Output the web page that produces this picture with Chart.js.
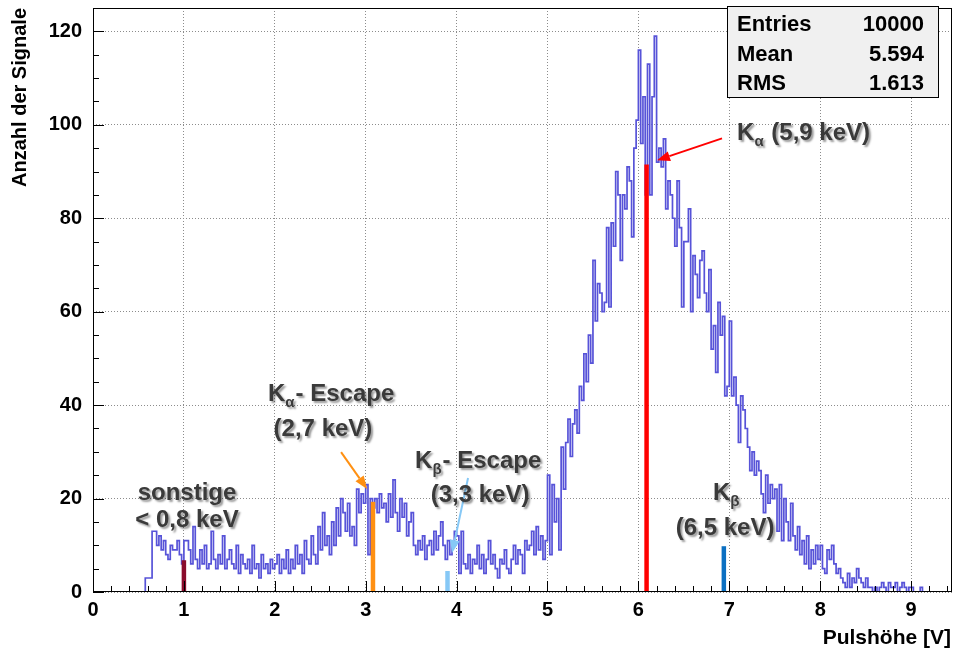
<!DOCTYPE html>
<html>
<head>
<meta charset="utf-8">
<title>Pulshöhenspektrum</title>
<script src="https://cdn.jsdelivr.net/npm/chart.js@4/dist/chart.umd.min.js"></script>
<style>
    html, body { margin: 0; padding: 0; background: #fff; }
    canvas { display: block; }
</style>
</head>
<body>
<canvas id="hist" width="953" height="651"></canvas>
<script>
// histogram: 0.025 V bins starting at 0 V, one row = 0.1 V
const binStart = 0
const binWidth = 0.025
const counts = [
    0, 0, 0, 0,   0, 0, 0, 0,   0, 0, 0, 0,   0, 0, 0, 0,   0, 0, 0, 0,
    0, 0, 0, 3,   3, 3, 13, 13, 10, 12, 9, 11, 8, 7, 10, 9,  9, 11, 8, 6,
    11, 11, 9, 6,  14, 7, 5, 9,  6, 10, 5, 6,  13, 7, 5, 8,  6, 12, 5, 7,
    9, 6, 5, 10,  4, 8, 6, 5,   7, 4, 10, 5,  6, 3, 8, 5,   6, 4, 7, 5,
    6, 8, 4, 7,   5, 9, 4, 7,   5, 10, 6, 8,  4, 11, 7, 6,  12, 8, 6, 14,
    9, 17, 10, 12, 8, 15, 10, 18, 12, 20, 17, 13, 19, 12, 14, 10, 22, 17, 21, 19,
    23, 8, 20, 18, 20, 17, 21, 18, 19, 15, 21, 16, 24, 17, 13, 20, 16, 19, 12, 15,
    17, 10, 8, 11, 9, 12, 7, 10,  11, 8, 13, 9,  12, 15, 10, 7, 11, 8, 10, 13,
    12, 4, 13, 6,  5, 8, 4, 7,   6, 10, 5, 8,  4, 7, 11, 6,  8, 5, 3, 7,
    6, 9, 5, 4,   7, 10, 6, 9,  8, 4, 11, 9,  10, 13, 8, 14, 9, 12, 7, 11,
    25, 8, 23, 15, 20, 9, 31, 22, 32, 37, 29, 36, 39, 34, 44, 41, 51, 45, 55, 49,
    71, 58, 66, 64, 60, 62, 78, 61, 79, 74, 90, 85, 71, 85, 82, 91, 88, 76, 95, 101,
    116, 96, 106, 85, 113, 85, 106, 119, 92, 95, 91, 97, 82, 88, 85, 80, 74, 88, 78, 61,
    75, 75, 82, 60, 72, 68, 63, 71, 73, 64, 60, 69, 52, 57, 47, 62, 55, 59, 42, 44,
    58, 42, 46, 40, 32, 42, 39, 35, 31, 26, 30, 25, 28, 26, 21, 17, 25, 19, 23, 20,
    22, 13, 23, 11, 20, 15, 11, 19, 12, 9, 14, 8,  11, 6, 12, 5,  9, 6, 10, 7,
    10, 5, 4, 9,  7, 10, 6, 4,   5, 3, 2, 1,   4, 1, 3, 2,   5, 3, 2, 1,
    3, 1, 1, 0,   1, 0, 1, 2,   1, 0, 2, 1,   1, 2, 0, 1,   2, 1, 0, 1,
    1, 0, 0, 0,   1, 0, 0, 0,   0, 0, 0, 0,   0, 0, 0, 0,   0, 0
]

const xTicks = [0, 1, 2, 3, 4, 5, 6, 7, 8, 9]
const yTicks = [0, 20, 40, 60, 80, 100, 120]

// line positions (V) and heights of the marked energies
const lineNames = ['sonstige', 'Ka-Escape', 'Kb-Escape', 'Ka', 'Kb']
const lineX = [1.0, 3.08, 3.9, 6.09, 6.94]
const lineHeight = [6.8, 19.3, 4.5, 91.5, 9.8]
const lineColors = ['#8a0c2c', '#ff9012', '#86c8f6', '#ff0000', '#0b70c2']

const statNames = ['Entries', 'Mean', 'RMS']
const statValues = ['10000', '5.594', '1.613']

const xMax = 9.45
const yMax = 125

// labels in axis units (x in V, y in counts at the text baseline)
const notes = [
    { k: '', sub: '', text: 'sonstige', x: 1.034, y: 19.7, align: 'center' },
    { k: '', sub: '', text: '< 0,8 keV', x: 1.034, y: 13.9, align: 'center' },
    { k: 'K', sub: 'α', text: '- Escape', x: 1.925, y: 40.9, align: 'left' },
    { k: '', sub: '', text: '(2,7 keV)', x: 2.53, y: 33.4, align: 'center' },
    { k: 'K', sub: 'β', text: '- Escape', x: 3.543, y: 26.5, align: 'left' },
    { k: '', sub: '', text: '(3,3 keV)', x: 4.258, y: 19.3, align: 'center' },
    { k: 'K', sub: 'α', text: ' (5,9 keV)', x: 7.086, y: 96.7, align: 'left' },
    { k: 'K', sub: 'β', text: '', x: 6.821, y: 19.7, align: 'left' },
    { k: '', sub: '', text: '(6,5 keV)', x: 6.953, y: 12.2, align: 'center' }
]

const arrows = [
    { from: [2.729, 29.95], to: [3.015, 22.03], color: '#ff9012' },
    { from: [4.126, 24.39], to: [3.950, 8.34], color: '#86c8f6' },
    { from: [6.920, 97.1], to: [6.205, 92.4], color: '#ff0000' }
]

const FONT = "'Liberation Sans', Arial, Helvetica, sans-serif"
Chart.defaults.font.family = FONT

let histPoints = counts.map((c, i) => ({ x: binStart + i * binWidth, y: c }))
histPoints.push({ x: binStart + counts.length * binWidth, y: counts[counts.length - 1] })

let lineSets = lineX.map((lx, i) => ({
    label: lineNames[i],
    data: [{ x: lx, y: 0 }, { x: lx, y: lineHeight[i] }],
    borderColor: lineColors[i],
    borderWidth: 4.5,
    borderCapStyle: 'butt',
    pointRadius: 0,
    order: 0
}))

function drawArrow(ctx, x0, y0, x1, y1, color) {
    let a = Math.atan2(y1 - y0, x1 - x0)
    let c = Math.cos(a), s = Math.sin(a)
    let head = 13, half = 5
    ctx.strokeStyle = color
    ctx.fillStyle = color
    ctx.lineWidth = 2
    ctx.beginPath()
    ctx.moveTo(x0, y0)
    ctx.lineTo(x1 - head * c, y1 - head * s)
    ctx.stroke()
    ctx.beginPath()
    ctx.moveTo(x1, y1)
    ctx.lineTo(x1 - head * c + half * s, y1 - head * s - half * c)
    ctx.lineTo(x1 - head * c - half * s, y1 - head * s + half * c)
    ctx.closePath()
    ctx.fill()
}

const decor = {
    id: 'decor',
    afterDatasetsDraw(chart) {
        const { ctx, chartArea: a, scales: { x, y } } = chart
        ctx.save()
        ctx.strokeStyle = '#000'
        ctx.lineWidth = 1
        ctx.strokeRect(a.left + 0.5, a.top + 0.5, a.right - a.left - 1, a.bottom - a.top - 1)

        // tick marks inside the frame
        ctx.beginPath()
        for (let k = 0; k * 0.2 <= xMax + 1e-9; k++) {
            let px = Math.round(x.getPixelForValue(k * 0.2)) + 0.5
            let len = k % 5 === 0 ? 11 : 6
            ctx.moveTo(px, a.bottom)
            ctx.lineTo(px, a.bottom - len)
        }
        for (let k = 0; k * 5 <= yMax; k++) {
            let py = Math.round(y.getPixelForValue(k * 5)) + 0.5
            let len = k % 4 === 0 ? 11 : 6
            ctx.moveTo(a.left, py)
            ctx.lineTo(a.left + len, py)
        }
        ctx.stroke()
        ctx.restore()
    },
    afterDraw(chart) {
        const { ctx, chartArea: a, scales: { x, y } } = chart
        ctx.save()

        // axis titles
        ctx.fillStyle = '#000'
        ctx.font = 'bold 21px ' + FONT
        ctx.textAlign = 'right'
        ctx.textBaseline = 'alphabetic'
        ctx.fillText('Pulshöhe [V]', a.right - 1, 644)
        ctx.save()
        ctx.translate(26, a.top)
        ctx.rotate(-Math.PI / 2)
        ctx.font = 'bold 20px ' + FONT
        ctx.fillText('Anzahl der Signale', 0, 0)
        ctx.restore()

        // arrows
        arrows.forEach(ar => {
            drawArrow(ctx, x.getPixelForValue(ar.from[0]), y.getPixelForValue(ar.from[1]),
                x.getPixelForValue(ar.to[0]), y.getPixelForValue(ar.to[1]), ar.color)
        })

        // labels with shadow
        ctx.shadowColor = 'rgba(0,0,0,0.4)'
        ctx.shadowOffsetX = 2
        ctx.shadowOffsetY = 2
        ctx.shadowBlur = 2
        ctx.fillStyle = '#3a3a3a'
        ctx.textAlign = 'left'
        const big = 'bold 24px ' + FONT
        const small = 'bold 15px ' + FONT
        notes.forEach(n => {
            ctx.font = big
            let w1 = ctx.measureText(n.k).width
            let w3 = ctx.measureText(n.text).width
            ctx.font = small
            let w2 = n.sub ? ctx.measureText(n.sub).width + 1 : 0
            let total = w1 + w2 + w3
            let px = x.getPixelForValue(n.x)
            let py = y.getPixelForValue(n.y)
            let start = n.align === 'center' ? px - total / 2 : px
            ctx.font = big
            if (n.k) ctx.fillText(n.k, start, py)
            if (n.sub) {
                ctx.font = small
                ctx.fillText(n.sub, start + w1, py + 6)
                ctx.font = big
            }
            ctx.fillText(n.text, start + w1 + w2, py)
        })
        ctx.restore()

        // statistics box
        ctx.save()
        ctx.fillStyle = '#f0f0f0'
        ctx.fillRect(727, 6, 211, 91)
        ctx.strokeStyle = '#000'
        ctx.lineWidth = 1
        ctx.strokeRect(727.5, 6.5, 211, 91)
        ctx.fillStyle = '#000'
        ctx.font = 'bold 22px ' + FONT
        statNames.forEach((name, i) => {
            let base = 31 + i * 29.5
            ctx.textAlign = 'left'
            ctx.fillText(name, 737, base)
            ctx.textAlign = 'right'
            ctx.fillText(statValues[i], 924, base)
        })
        ctx.restore()
    }
}

const ctx = document.getElementById('hist').getContext('2d')
const histChart = new Chart(ctx, {
    type: 'line',
    data: {
        datasets: [
            ...lineSets,
            {
                label: 'Pulshöhe',
                data: histPoints,
                stepped: 'before',
                borderColor: '#5753d8',
                borderWidth: 1.7,
                pointRadius: 0,
                fill: false,
                order: 1
            }
        ]
    },
    options: {
        responsive: false,
        animation: false,
        layout: { padding: { top: 8, right: 1, left: 0, bottom: 0 } },
        plugins: {
            legend: { display: false },
            tooltip: { enabled: false }
        },
        scales: {
            x: {
                type: 'linear',
                min: 0,
                max: xMax,
                afterBuildTicks: s => { s.ticks = xTicks.map(v => ({ value: v })) },
                afterFit: s => {
                    s.height = 59
                    s.paddingLeft = 0
                    s.paddingRight = 0
                },
                grid: { color: '#8c8c8c', lineWidth: 1, drawTicks: false },
                border: { display: false, dash: [1, 2] },
                ticks: {
                    color: '#000',
                    font: { size: 20, weight: 'bold' },
                    padding: 6,
                    maxRotation: 0,
                    autoSkip: false
                }
            },
            y: {
                type: 'linear',
                min: 0,
                max: yMax,
                afterBuildTicks: s => { s.ticks = yTicks.map(v => ({ value: v })) },
                afterFit: s => {
                    s.width = 93
                    s.paddingTop = 0
                    s.paddingBottom = 0
                },
                grid: { color: '#8c8c8c', lineWidth: 1, drawTicks: false },
                border: { display: false, dash: [1, 2] },
                ticks: {
                    color: '#000',
                    font: { size: 20, weight: 'bold' },
                    padding: 11
                }
            }
        }
    },
    plugins: [decor]
})
</script>
</body>
</html>
